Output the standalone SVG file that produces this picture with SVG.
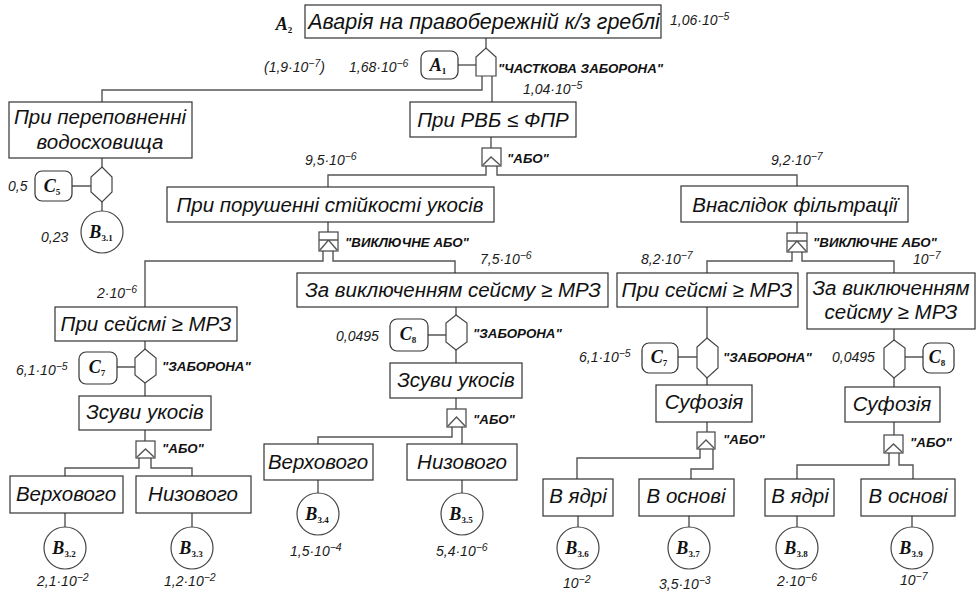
<svg xmlns="http://www.w3.org/2000/svg" width="977" height="597" viewBox="0 0 977 597">
<style>
.bx{fill:#fff;stroke:#333;stroke-width:1.2}
.rb{fill:#fff;stroke:#333;stroke-width:1.2}
.g{fill:#fff;stroke:#444;stroke-width:1.2}
.c{fill:none;stroke:#555;stroke-width:1.4}
.t{font-family:"Liberation Sans",Arial,sans-serif;font-style:italic;font-size:20.5px;fill:#111;text-anchor:middle}
.n{font-family:"Liberation Sans",Arial,sans-serif;font-style:italic;font-size:14px;fill:#1a1a1a}
.gl{font-family:"Liberation Sans",Arial,sans-serif;font-style:italic;font-weight:bold;font-size:13.3px;fill:#111}
.s{font-family:"Liberation Serif","Times New Roman",serif;font-style:italic;font-weight:bold;font-size:18px;fill:#111;text-anchor:middle}
.sb{font-size:9px;font-style:normal}
.sp{font-size:10.5px}
</style>
<rect width="977" height="597" fill="#fff"/>

<g id="connectors">
<path class="c" d="M486,38V48"/>
<path class="c" d="M458,65H476"/>
<path class="c" d="M482,76V90H102V102"/>
<path class="c" d="M492,76V102"/>
<path class="c" d="M102,158V167M72,186H91M102,202V211"/>
<path class="c" d="M491,137V148"/>
<path class="c" d="M486,166V175H328V187"/>
<path class="c" d="M497,166V175H797V186"/>
<path class="c" d="M328,222V232"/>
<path class="c" d="M323,251V261H145V307"/>
<path class="c" d="M333,251V261H455V273"/>
<path class="c" d="M145,341V349M117,367H135M145,383V396M145,430V441"/>
<path class="c" d="M139,458V468H65V476M151,458V468H192V476"/>
<path class="c" d="M65,513V527M192,513V527"/>
<path class="c" d="M456,307V315M428,335H446M456,350V363M456,398V409"/>
<path class="c" d="M452,427V437H318V444M462,427V444"/>
<path class="c" d="M318,480V493M462,480V493"/>
<path class="c" d="M797,222V233"/>
<path class="c" d="M792,252V261H707V273M802,252V261H894V273"/>
<path class="c" d="M707,307V338M678,357H697M707,378V385M707,422V432"/>
<path class="c" d="M700,449V458H577V479M713,449V469H691V479"/>
<path class="c" d="M578,516V527M689,516V527"/>
<path class="c" d="M894,329V340M905,357H923M894,378V387M894,422V435"/>
<path class="c" d="M889,453V465H797V479M899,453V465H913V479"/>
<path class="c" d="M797,516V527M912,516V527"/>
</g>

<g id="top">
<rect class="bx" x="305" y="5" width="356" height="33"/>
<text class="t" x="484" y="29" style="font-size:21.5px">Аварія на правобережній к/з греблі</text>
<text class="s" x="284" y="30">A<tspan class="sb" dy="3">2</tspan></text>
<text class="n" x="670" y="25">1,06·10<tspan class="sp" dy="-5">−5</tspan></text>
</g>

<g id="gate-partial">
<path class="g" d="M476,57L486,48L496,57V76H476Z"/>
<text class="gl" x="498" y="73">"ЧАСТКОВА ЗАБОРОНА"</text>
<text class="n" x="523" y="94">1,04·10<tspan class="sp" dy="-5">−5</tspan></text>
</g>
<g id="A1">
<rect class="rb" x="421" y="51" width="37" height="28" rx="7"/>
<text class="s" x="438" y="71">A<tspan class="sb" dy="3">1</tspan></text>
<text class="n" x="264" y="72">(1,9·10<tspan class="sp" dy="-5">−7</tspan><tspan dy="5">)</tspan></text>
<text class="n" x="349" y="72">1,68·10<tspan class="sp" dy="-5">−6</tspan></text>
</g>

<g id="overflow">
<rect class="bx" x="9" y="102" width="183" height="56"/>
<text class="t" x="100" y="124">При переповненні</text>
<text class="t" x="100" y="149">водосховища</text>
</g>
<g id="gate-c5">
<path class="g" d="M102,167L112,177V192L102,202L91,192V177Z"/>
</g>
<g id="C5">
<rect class="rb" x="35" y="171" width="37" height="30" rx="7"/>
<text class="s" x="52" y="192">C<tspan class="sb" dy="3">5</tspan></text>
<text class="n" x="8" y="191">0,5</text>
</g>
<g id="B31">
<circle class="g" cx="102" cy="232" r="21"/>
<text class="s" x="101" y="238">B<tspan class="sb" dy="3">3.1</tspan></text>
<text class="n" x="41" y="242">0,23</text>
</g>

<g id="rvb">
<rect class="bx" x="410" y="102" width="166" height="35"/>
<text class="t" x="493" y="127">При РВБ ≤ ФПР</text>
</g>
<g id="gate-or1">
<rect class="g" x="482" y="148" width="19" height="18"/>
<path class="c" d="M483,165L491,157L500,165"/>
<text class="gl" x="507" y="163">"АБО"</text>
<text class="n" x="305" y="165">9,5·10<tspan class="sp" dy="-5">−6</tspan></text>
<text class="n" x="771" y="165">9,2·10<tspan class="sp" dy="-5">−7</tspan></text>
</g>

<g id="stability">
<rect class="bx" x="167" y="187" width="327" height="35"/>
<text class="t" x="330" y="212">При порушенні стійкості укосів</text>
</g>
<g id="gate-xor1">
<rect class="g" x="319" y="232" width="19" height="19"/>
<path class="c" d="M319,240H338M320,250L328.5,240L337,250"/>
<text class="gl" x="345" y="247">"ВИКЛЮЧНЕ АБО"</text>
<text class="n" x="97" y="298">2·10<tspan class="sp" dy="-5">−6</tspan></text>
<text class="n" x="480" y="264">7,5·10<tspan class="sp" dy="-5">−6</tspan></text>
</g>

<g id="seism-left">
<rect class="bx" x="55" y="307" width="182" height="34"/>
<text class="t" x="146" y="331">При сейсмі ≥ МРЗ</text>
</g>
<g id="gate-c7-left">
<path class="g" d="M145,349L156,358V375L145,383L135,375V358Z"/>
<text class="gl" x="162" y="371">"ЗАБОРОНА"</text>
</g>
<g id="C7-left">
<rect class="rb" x="79" y="352" width="38" height="32" rx="7"/>
<text class="s" x="97" y="373">C<tspan class="sb" dy="3">7</tspan></text>
<text class="n" x="16" y="375">6,1·10<tspan class="sp" dy="-5">−5</tspan></text>
</g>
<g id="slides-left">
<rect class="bx" x="79" y="396" width="132" height="34"/>
<text class="t" x="145" y="419">Зсуви укосів</text>
</g>
<g id="gate-or2">
<rect class="g" x="136" y="441" width="19" height="17"/>
<path class="c" d="M137,457L145.5,449L154,457"/>
<text class="gl" x="162" y="453">"АБО"</text>
</g>
<g id="upper-left">
<rect class="bx" x="10" y="476" width="113" height="37"/>
<text class="t" x="66" y="501">Верхового</text>
</g>
<g id="lower-left">
<rect class="bx" x="136" y="476" width="115" height="37"/>
<text class="t" x="193" y="501">Низового</text>
</g>
<g id="B32">
<circle class="g" cx="65" cy="548" r="21"/>
<text class="s" x="64" y="554">B<tspan class="sb" dy="3">3.2</tspan></text>
<text class="n" x="37" y="586">2,1·10<tspan class="sp" dy="-5">−2</tspan></text>
</g>
<g id="B33">
<circle class="g" cx="192" cy="548" r="21"/>
<text class="s" x="191" y="554">B<tspan class="sb" dy="3">3.3</tspan></text>
<text class="n" x="164" y="586">1,2·10<tspan class="sp" dy="-5">−2</tspan></text>
</g>

<g id="except-mid">
<rect class="bx" x="297" y="273" width="311" height="34"/>
<text class="t" x="453" y="297">За виключенням сейсму ≥ МРЗ</text>
</g>
<g id="gate-c8-mid">
<path class="g" d="M456,315L467,323V342L456,350L446,342V323Z"/>
<text class="gl" x="473" y="338">"ЗАБОРОНА"</text>
</g>
<g id="C8-mid">
<rect class="rb" x="390" y="319" width="38" height="32" rx="7"/>
<text class="s" x="408" y="340">C<tspan class="sb" dy="3">8</tspan></text>
<text class="n" x="336" y="341">0,0495</text>
</g>
<g id="slides-mid">
<rect class="bx" x="390" y="363" width="132" height="35"/>
<text class="t" x="456" y="387">Зсуви укосів</text>
</g>
<g id="gate-or3">
<rect class="g" x="447" y="409" width="19" height="18"/>
<path class="c" d="M448,426L456.5,417L465,426"/>
<text class="gl" x="473" y="424">"АБО"</text>
</g>
<g id="upper-mid">
<rect class="bx" x="264" y="444" width="109" height="36"/>
<text class="t" x="318" y="469">Верхового</text>
</g>
<g id="lower-mid">
<rect class="bx" x="407" y="444" width="110" height="36"/>
<text class="t" x="462" y="469">Низового</text>
</g>
<g id="B34">
<circle class="g" cx="318" cy="514" r="21"/>
<text class="s" x="317" y="520">B<tspan class="sb" dy="3">3.4</tspan></text>
<text class="n" x="290" y="556">1,5·10<tspan class="sp" dy="-5">−4</tspan></text>
</g>
<g id="B35">
<circle class="g" cx="462" cy="514" r="21"/>
<text class="s" x="461" y="520">B<tspan class="sb" dy="3">3.5</tspan></text>
<text class="n" x="436" y="556">5,4·10<tspan class="sp" dy="-5">−6</tspan></text>
</g>

<g id="filtration">
<rect class="bx" x="681" y="186" width="227" height="36"/>
<text class="t" x="795" y="212">Внаслідок фільтрації</text>
</g>
<g id="gate-xor2">
<rect class="g" x="787" y="233" width="20" height="19"/>
<path class="c" d="M787,241H807M788,251L797,241L806,251"/>
<text class="gl" x="813" y="247">"ВИКЛЮЧНЕ АБО"</text>
<text class="n" x="641" y="264">8,2·10<tspan class="sp" dy="-5">−7</tspan></text>
<text class="n" x="913" y="264">10<tspan class="sp" dy="-5">−7</tspan></text>
</g>
<g id="seism-right">
<rect class="bx" x="617" y="273" width="181" height="34"/>
<text class="t" x="707" y="297">При сейсмі ≥ МРЗ</text>
</g>
<g id="except-right">
<rect class="bx" x="807" y="273" width="168" height="56"/>
<text class="t" x="891" y="295">За виключенням</text>
<text class="t" x="891" y="319">сейсму ≥ МРЗ</text>
</g>
<g id="gate-c7-right">
<path class="g" d="M707,338L718,347V368L707,378L697,368V347Z"/>
<text class="gl" x="723" y="362">"ЗАБОРОНА"</text>
</g>
<g id="C7-right">
<rect class="rb" x="642" y="343" width="36" height="30" rx="7"/>
<text class="s" x="659" y="363">C<tspan class="sb" dy="3">7</tspan></text>
<text class="n" x="579" y="362">6,1·10<tspan class="sp" dy="-5">−5</tspan></text>
</g>
<g id="gate-c8-right">
<path class="g" d="M894,340L905,348V369L894,378L884,369V348Z"/>
</g>
<g id="C8-right">
<rect class="rb" x="923" y="343" width="31" height="30" rx="7"/>
<text class="s" x="937" y="363">C<tspan class="sb" dy="3">8</tspan></text>
<text class="n" x="832" y="362">0,0495</text>
</g>
<g id="suffosion-left">
<rect class="bx" x="656" y="385" width="96" height="37"/>
<text class="t" x="704" y="409">Суфозія</text>
</g>
<g id="suffosion-right">
<rect class="bx" x="845" y="387" width="95" height="35"/>
<text class="t" x="892" y="411">Суфозія</text>
</g>
<g id="gate-or4">
<rect class="g" x="697" y="432" width="18" height="17"/>
<path class="c" d="M698,448L706,440L714,448"/>
<text class="gl" x="723" y="444">"АБО"</text>
</g>
<g id="gate-or5">
<rect class="g" x="884" y="435" width="19" height="18"/>
<path class="c" d="M885,452L893.5,444L902,452"/>
<text class="gl" x="910" y="447">"АБО"</text>
</g>
<g id="core-left">
<rect class="bx" x="543" y="479" width="70" height="37"/>
<text class="t" x="578" y="503">В ядрі</text>
</g>
<g id="base-left">
<rect class="bx" x="639" y="479" width="95" height="37"/>
<text class="t" x="686" y="503">В основі</text>
</g>
<g id="core-right">
<rect class="bx" x="765" y="479" width="69" height="37"/>
<text class="t" x="800" y="503">В ядрі</text>
</g>
<g id="base-right">
<rect class="bx" x="861" y="479" width="94" height="37"/>
<text class="t" x="908" y="503">В основі</text>
</g>
<g id="B36">
<circle class="g" cx="578" cy="548" r="21"/>
<text class="s" x="577" y="554">B<tspan class="sb" dy="3">3.6</tspan></text>
<text class="n" x="563" y="588">10<tspan class="sp" dy="-5">−2</tspan></text>
</g>
<g id="B37">
<circle class="g" cx="689" cy="548" r="21"/>
<text class="s" x="688" y="554">B<tspan class="sb" dy="3">3.7</tspan></text>
<text class="n" x="659" y="589">3,5·10<tspan class="sp" dy="-5">−3</tspan></text>
</g>
<g id="B38">
<circle class="g" cx="797" cy="548" r="21"/>
<text class="s" x="796" y="554">B<tspan class="sb" dy="3">3.8</tspan></text>
<text class="n" x="777" y="586">2·10<tspan class="sp" dy="-5">−6</tspan></text>
</g>
<g id="B39">
<circle class="g" cx="912" cy="548" r="21"/>
<text class="s" x="911" y="554">B<tspan class="sb" dy="3">3.9</tspan></text>
<text class="n" x="900" y="585">10<tspan class="sp" dy="-5">−7</tspan></text>
</g>
</svg>
